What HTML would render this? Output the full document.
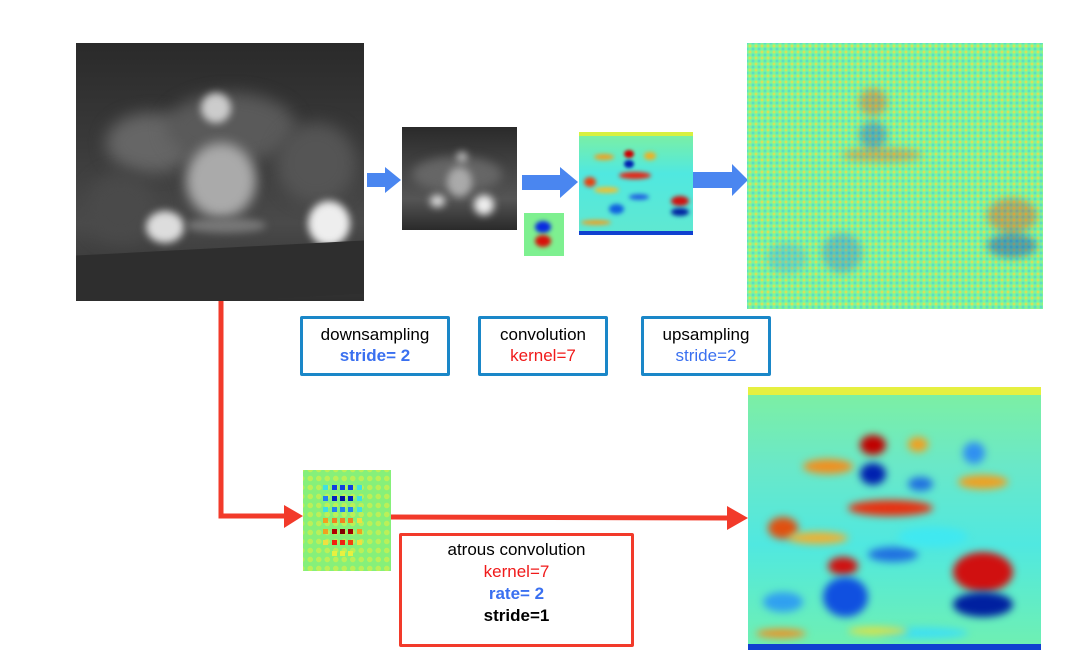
<!DOCTYPE html>
<html><head><meta charset="utf-8"><style>
body{margin:0;width:1076px;height:672px;background:#fff;position:relative;overflow:hidden;font-family:"Liberation Sans",sans-serif}
.a{position:absolute}
.b{position:absolute;border-radius:50%;filter:blur(4px)}
.box{position:absolute;border:3px solid #1a87c8;box-sizing:border-box;text-align:center;font-size:17px;line-height:21px;padding-top:5px;border-radius:2px}
</style></head><body>
<!-- photo -->
<div class="a" style="left:76px;top:43px;width:288px;height:258px;background:linear-gradient(#2a2a2a 0%,#3a3a3a 40%,#4a4a4a 70%,#2e2e2e 100%);overflow:hidden">
<div class="b" style="left:30px;top:70px;width:90px;height:60px;background:#666;filter:blur(8px)"></div>
<div class="b" style="left:90px;top:50px;width:130px;height:70px;background:#5a5a5a;filter:blur(8px)"></div>
<div class="b" style="left:200px;top:80px;width:80px;height:80px;background:#555;filter:blur(8px)"></div>
<div class="b" style="left:10px;top:130px;width:70px;height:70px;background:#4a4a4a;filter:blur(8px)"></div>
<div class="b" style="left:110px;top:100px;width:70px;height:75px;background:#aaa;filter:blur(6px)"></div>
<div class="b" style="left:125px;top:50px;width:30px;height:30px;background:#ccc"></div>
<div class="b" style="left:232px;top:158px;width:42px;height:45px;background:#eee"></div>
<div class="b" style="left:70px;top:168px;width:38px;height:32px;background:#ddd"></div>
<div class="b" style="left:110px;top:175px;width:80px;height:15px;background:#777"></div>
<div class="a" style="left:0;top:205px;width:288px;height:53px;background:#2e2e2e;transform:skewY(-3deg)"></div>
</div>
<!-- arrows -->
<svg class="a" style="left:0;top:0" width="1076" height="672">
<polygon points="367,173 385,173 385,167 401,180 385,193 385,187 367,187" fill="#4a86f0"/>
<polygon points="522,175 560,175 560,167 578,182 560,198 560,190 522,190" fill="#4a86f0"/>
<polygon points="691,172 732,172 732,164 748,180 732,196 732,188 691,188" fill="#4a86f0"/>
<path d="M221,301 L221,516 L286,516" stroke="#f23a2a" stroke-width="5" fill="none"/>
<polygon points="284,505 303,516 284,528" fill="#f23a2a"/>
<path d="M391,517 L730,518" stroke="#f23a2a" stroke-width="5" fill="none"/>
<polygon points="727,506 748,518 727,530" fill="#f23a2a"/>
</svg>
<!-- small photo -->
<div class="a" style="left:402px;top:127px;width:115px;height:103px;background:linear-gradient(#2a2a2a 0%,#444 40%,#555 70%,#2a2a2a 100%);overflow:hidden">
<div class="b" style="left:10px;top:30px;width:90px;height:35px;background:#666;filter:blur(5px)"></div>
<div class="b" style="left:45px;top:40px;width:25px;height:30px;background:#aaa"></div>
<div class="b" style="left:72px;top:68px;width:20px;height:20px;background:#eee"></div>
<div class="b" style="left:28px;top:68px;width:15px;height:12px;background:#ddd"></div>
<div class="b" style="left:55px;top:25px;width:10px;height:10px;background:#ccc"></div>
</div>
<!-- kernel -->
<div class="a" style="left:524px;top:213px;width:40px;height:43px;background:#7ef090;overflow:hidden">
<div class="b" style="left:11px;top:8px;width:16px;height:12px;background:#0a2be0;filter:blur(2px)"></div>
<div class="b" style="left:11px;top:22px;width:16px;height:12px;background:#d8100a;filter:blur(2px)"></div>
</div>
<!-- conv output -->
<div class="a" style="left:579px;top:132px;width:114px;height:103px;background:linear-gradient(#7ef0a0,#50e8e0 40%,#60e8d0);overflow:hidden">
<div class="a" style="left:0;top:0;width:114px;height:4px;background:#d8f040"></div>
<div class="b" style="left:45px;top:18px;width:10px;height:8px;background:#c00;filter:blur(1.5px)"></div>
<div class="b" style="left:45px;top:28px;width:10px;height:8px;background:#0020b0;filter:blur(1.5px)"></div>
<div class="b" style="left:40px;top:40px;width:32px;height:7px;background:#e82010;filter:blur(2px)"></div>
<div class="b" style="left:15px;top:22px;width:20px;height:6px;background:#f0a020;filter:blur(2px)"></div>
<div class="b" style="left:65px;top:20px;width:12px;height:8px;background:#f0b020;filter:blur(2px)"></div>
<div class="b" style="left:5px;top:45px;width:12px;height:10px;background:#e84010;filter:blur(2px)"></div>
<div class="b" style="left:15px;top:55px;width:25px;height:6px;background:#f0c030;filter:blur(2px)"></div>
<div class="b" style="left:92px;top:64px;width:18px;height:10px;background:#d01010;filter:blur(2px)"></div>
<div class="b" style="left:92px;top:76px;width:18px;height:8px;background:#0020a0;filter:blur(2px)"></div>
<div class="b" style="left:30px;top:72px;width:15px;height:10px;background:#1060e0;filter:blur(2px)"></div>
<div class="b" style="left:50px;top:62px;width:20px;height:6px;background:#2060e0;filter:blur(2px)"></div>
<div class="b" style="left:2px;top:88px;width:30px;height:5px;background:#f0a020;filter:blur(2px)"></div>
<div class="a" style="left:0;top:99px;width:114px;height:4px;background:#1040d0"></div>
</div>
<!-- upsampled -->
<div class="a" style="left:747px;top:43px;width:296px;height:266px;background:radial-gradient(circle,rgba(240,220,70,.75) 1.2px,transparent 1.8px) 0 0/6px 6px,radial-gradient(circle,rgba(60,200,240,.5) 1.2px,transparent 1.8px) 3px 3px/6px 6px,#7ef59a;overflow:hidden">
<div class="b" style="left:112px;top:45px;width:28px;height:28px;background:rgba(220,60,30,.35)"></div>
<div class="b" style="left:112px;top:78px;width:28px;height:28px;background:rgba(20,60,200,.35)"></div>
<div class="b" style="left:95px;top:105px;width:80px;height:14px;background:rgba(230,80,30,.35)"></div>
<div class="b" style="left:240px;top:155px;width:50px;height:35px;background:rgba(220,50,20,.35)"></div>
<div class="b" style="left:240px;top:190px;width:50px;height:25px;background:rgba(10,40,180,.4)"></div>
<div class="b" style="left:20px;top:200px;width:40px;height:30px;background:rgba(60,150,240,.3)"></div>
<div class="b" style="left:75px;top:190px;width:40px;height:40px;background:rgba(30,90,230,.3)"></div>
</div>
<!-- boxes -->
<div class="box" style="left:300px;top:316px;width:150px;height:60px">downsampling<br><b style="color:#3a70f0">stride= 2</b></div>
<div class="box" style="left:478px;top:316px;width:130px;height:60px">convolution<br><span style="color:#f01a1a">kernel=7</span></div>
<div class="box" style="left:641px;top:316px;width:130px;height:60px">upsampling<br><span style="color:#3a70f0">stride=2</span></div>
<!-- atrous kernel -->
<div class="a" style="left:303px;top:470px;width:88px;height:101px;background:radial-gradient(circle,rgba(200,240,80,.8) 2.5px,transparent 3px) 3px 4px/8.5px 9px,#86f07a;overflow:hidden">
<svg width="88" height="101">
<g>
<rect x="20" y="15" width="5" height="5" fill="#40e0e0"/><rect x="29" y="15" width="5" height="5" fill="#1040e0"/><rect x="37" y="15" width="5" height="5" fill="#1040e0"/><rect x="45" y="15" width="5" height="5" fill="#1040e0"/><rect x="54" y="15" width="5" height="5" fill="#40e0e0"/>
<rect x="20" y="26" width="5" height="5" fill="#2080f0"/><rect x="29" y="26" width="5" height="5" fill="#0020c0"/><rect x="37" y="26" width="5" height="5" fill="#0010a0"/><rect x="45" y="26" width="5" height="5" fill="#0020c0"/><rect x="54" y="26" width="5" height="5" fill="#40e0e0"/>
<rect x="20" y="37" width="5" height="5" fill="#40e0e0"/><rect x="29" y="37" width="5" height="5" fill="#2080f0"/><rect x="37" y="37" width="5" height="5" fill="#2080f0"/><rect x="45" y="37" width="5" height="5" fill="#2080f0"/><rect x="54" y="37" width="5" height="5" fill="#40e0e0"/>
<rect x="20" y="48" width="5" height="5" fill="#f0a020"/><rect x="29" y="48" width="5" height="5" fill="#f08020"/><rect x="37" y="48" width="5" height="5" fill="#f08020"/><rect x="45" y="48" width="5" height="5" fill="#f08020"/><rect x="54" y="48" width="5" height="5" fill="#f0e040"/>
<rect x="20" y="59" width="5" height="5" fill="#f0a020"/><rect x="29" y="59" width="5" height="5" fill="#b00000"/><rect x="37" y="59" width="5" height="5" fill="#800000"/><rect x="45" y="59" width="5" height="5" fill="#a00000"/><rect x="54" y="59" width="5" height="5" fill="#f0a020"/>
<rect x="20" y="70" width="5" height="5" fill="#f0e040"/><rect x="29" y="70" width="5" height="5" fill="#f02010"/><rect x="37" y="70" width="5" height="5" fill="#f02010"/><rect x="45" y="70" width="5" height="5" fill="#f04010"/><rect x="54" y="70" width="5" height="5" fill="#f0e040"/>
<rect x="29" y="81" width="5" height="5" fill="#e8f040"/><rect x="37" y="81" width="5" height="5" fill="#e8f040"/><rect x="45" y="81" width="5" height="5" fill="#e8f040"/>
</g></svg>
</div>
<div class="a" style="left:399px;top:533px;width:235px;height:114px;border:3px solid #f23a2a;box-sizing:border-box;border-radius:2px;text-align:center;font-size:17px;line-height:22px;padding-top:3px">atrous convolution<br><span style="color:#f01a1a">kernel=7</span><br><b style="color:#3a70f0">rate= 2</b><br><b>stride=1</b></div>
<!-- bottom output -->
<div class="a" style="left:748px;top:387px;width:293px;height:263px;background:linear-gradient(#7ef0a0 0%,#6ae8c8 30%,#50e8e0 60%,#70f0b0 100%);overflow:hidden">
<div class="a" style="left:0;top:0;width:293px;height:8px;background:#e6f040"></div>
<div class="b" style="left:112px;top:48px;width:26px;height:20px;background:#c00000"></div>
<div class="b" style="left:112px;top:76px;width:26px;height:22px;background:#0020b0"></div>
<div class="b" style="left:55px;top:72px;width:50px;height:15px;background:#f09020"></div>
<div class="b" style="left:100px;top:113px;width:85px;height:16px;background:#e83010"></div>
<div class="b" style="left:20px;top:130px;width:30px;height:22px;background:#e05010"></div>
<div class="b" style="left:40px;top:145px;width:60px;height:12px;background:#f0b030"></div>
<div class="b" style="left:80px;top:170px;width:30px;height:18px;background:#d01010"></div>
<div class="b" style="left:75px;top:190px;width:45px;height:40px;background:#1050e0"></div>
<div class="b" style="left:205px;top:165px;width:60px;height:40px;background:#d01010"></div>
<div class="b" style="left:205px;top:205px;width:60px;height:25px;background:#0020a0"></div>
<div class="b" style="left:15px;top:205px;width:40px;height:20px;background:#30a0f0"></div>
<div class="b" style="left:160px;top:50px;width:20px;height:15px;background:#f0a020"></div>
<div class="b" style="left:210px;top:88px;width:50px;height:14px;background:#f0a020"></div>
<div class="b" style="left:215px;top:55px;width:22px;height:22px;background:#3090f0"></div>
<div class="b" style="left:160px;top:90px;width:25px;height:14px;background:#2070e0"></div>
<div class="b" style="left:120px;top:160px;width:50px;height:15px;background:#2070e0"></div>
<div class="b" style="left:150px;top:140px;width:70px;height:20px;background:#40e8f0"></div>
<div class="b" style="left:130px;top:240px;width:90px;height:12px;background:#40e0f0"></div>
<div class="b" style="left:100px;top:240px;width:60px;height:8px;background:#e0e040"></div>
<div class="b" style="left:8px;top:242px;width:50px;height:9px;background:#f09020"></div>
<div class="a" style="left:0;top:257px;width:293px;height:6px;background:#1040d0"></div>
</div>
</body></html>
